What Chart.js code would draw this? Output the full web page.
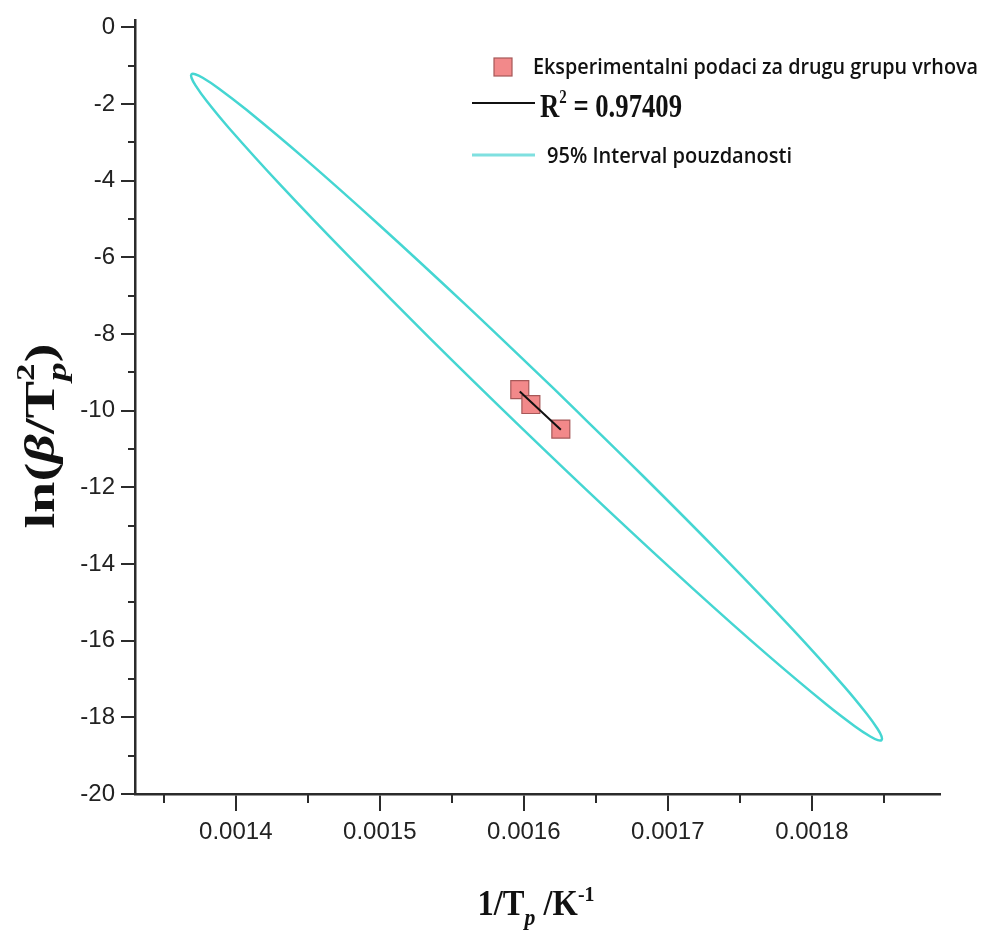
<!DOCTYPE html>
<html lang="sr">
<head>
<meta charset="UTF-8">
<title>ln(beta/Tp2) vs 1/Tp</title>
<script src="https://cdn.jsdelivr.net/npm/chart.js"></script>
<style>
  html, body { margin: 0; padding: 0; background: #fff; }
  #wrap { position: relative; width: 987px; height: 931px; }
</style>
</head>
<body>
<div id="wrap"><canvas id="chart"></canvas></div>
<script>
// experimental points (1/Tp, ln(beta/Tp^2))
const expX = [0.0015972, 0.0016049, 0.0016257];
const expY = [-9.45, -9.84, -10.48];

// fitted line, read at both ends
const fitX = [0.0015972, 0.0016257];
const fitY = [-9.50, -10.50];

// 95% confidence ellipse, traced round from the upper side
const ellX = [0.0016210, 0.0015586, 0.0014996, 0.0014480, 0.0014074, 0.0013879, 0.0013770, 0.0013718,
              0.0013692, 0.0013693, 0.0013720, 0.0013795, 0.0013952, 0.0014308, 0.0014785, 0.0015350,
              0.0015966, 0.0016590, 0.0017180, 0.0017696, 0.0018102, 0.0018298, 0.0018406, 0.0018458,
              0.0018484, 0.0018484, 0.0018457, 0.0018381, 0.0018224, 0.0017869, 0.0017392, 0.0016826,
              0.0016210];
const ellY = [-9.434, -7.203, -5.156, -3.433, -2.152, -1.587, -1.317, -1.224,
              -1.226, -1.323, -1.514, -1.911, -2.626, -4.105, -5.978, -8.120,
              -10.383, -12.614, -14.661, -16.384, -17.666, -18.231, -18.500, -18.594,
              -18.592, -18.495, -18.303, -17.906, -17.191, -15.713, -13.839, -11.698,
              -9.434];

// minor tick positions
const xMinor = [0.00135, 0.00145, 0.00155, 0.00165, 0.00175, 0.00185];
const yMinor = [-1, -3, -5, -7, -9, -11, -13, -15, -17, -19];

const legendLabels = ['Eksperimentalni podaci za drugu grupu vrhova', ' = 0.97409', '95% Interval pouzdanosti'];

const pointFill = '#f2898a';
const pointEdge = '#a65858';
const cyan = '#45d6d2';
const axisColor = '#2b2b2b';

function toPts(xs, ys) {
  return xs.map((x, i) => ({ x: x, y: ys[i] }));
}

// draws a row of text pieces (sub/superscripts), squeezed to a given width
function drawRich(ctx, parts, ox, oy, opts) {
  let x = 0, hold = 0;
  for (const p of parts) {
    ctx.font = p.font;
    p.w = ctx.measureText(p.t).width;
    p.x = x;
    if (p.stack) hold = Math.max(hold, p.w);
    else { x += Math.max(hold, p.w); hold = 0; }
  }
  const total = x;
  const sx = opts.width ? opts.width / total : 1;
  ctx.save();
  ctx.translate(ox, oy);
  if (opts.rotate) ctx.rotate(-Math.PI / 2);
  ctx.scale(sx, 1);
  ctx.fillStyle = opts.color || '#111';
  ctx.textBaseline = 'alphabetic';
  ctx.textAlign = 'left';
  const start = opts.center ? -total / 2 : 0;
  for (const p of parts) {
    ctx.font = p.font;
    ctx.fillText(p.t, start + p.x, p.dy || 0);
  }
  ctx.restore();
}

const serif = '"Liberation Serif", "Times New Roman", serif';
const sans = '"Open Sans", "Noto Sans", sans-serif';

const decorPlugin = {
  id: 'decor',
  afterDraw(chart) {
    const ctx = chart.ctx;
    const xs = chart.scales.x, ys = chart.scales.y;
    const area = chart.chartArea;

    // minor ticks
    ctx.save();
    ctx.strokeStyle = axisColor;
    ctx.lineWidth = 2;
    ctx.beginPath();
    xMinor.forEach(v => {
      const px = Math.round(xs.getPixelForValue(v));
      ctx.moveTo(px, area.bottom);
      ctx.lineTo(px, area.bottom + 9);
    });
    yMinor.forEach(v => {
      const py = Math.round(ys.getPixelForValue(v));
      ctx.moveTo(area.left, py);
      ctx.lineTo(area.left - 7, py);
    });
    ctx.stroke();
    ctx.restore();

    // legend
    ctx.save();
    ctx.fillStyle = pointFill;
    ctx.strokeStyle = pointEdge;
    ctx.lineWidth = 1.2;
    ctx.fillRect(494, 58, 18, 18);
    ctx.strokeRect(494, 58, 18, 18);
    ctx.strokeStyle = '#111';
    ctx.lineWidth = 2;
    ctx.beginPath(); ctx.moveTo(472, 103); ctx.lineTo(535, 103); ctx.stroke();
    ctx.strokeStyle = '#7fe0e0';
    ctx.lineWidth = 3;
    ctx.beginPath(); ctx.moveTo(472, 155); ctx.lineTo(535, 155); ctx.stroke();
    ctx.restore();

    drawRich(ctx, [{ t: legendLabels[0], font: '600 22px ' + sans }], 533, 74, { width: 445 });
    drawRich(ctx, [
      { t: 'R', font: 'bold 34px ' + serif },
      { t: '2', font: 'bold 19px ' + serif, dy: -14 },
      { t: legendLabels[1], font: 'bold 34px ' + serif }
    ], 540, 117, { width: 142 });
    drawRich(ctx, [{ t: legendLabels[2], font: '600 22px ' + sans }], 547, 163, { width: 245 });

    // axis titles
    drawRich(ctx, [
      { t: '1/T', font: 'bold 36px ' + serif },
      { t: 'p', font: 'italic bold 24px ' + serif, dy: 10 },
      { t: ' /K', font: 'bold 36px ' + serif },
      { t: '-1', font: 'bold 22px ' + serif, dy: -14 }
    ], 536, 915, { width: 117, center: true });

    drawRich(ctx, [
      { t: 'ln(', font: 'bold 42px ' + serif },
      { t: '\u03B2', font: 'italic bold 42px ' + serif },
      { t: '/T', font: 'bold 42px ' + serif },
      { t: 'p', font: 'italic bold 28px ' + serif, dy: 12, stack: true },
      { t: '2', font: 'bold 26px ' + serif, dy: -20 },
      { t: ')', font: 'bold 42px ' + serif }
    ], 54, 436, { rotate: true, center: true, width: 185 });
  }
};

new Chart(document.getElementById('chart'), {
  type: 'scatter',
  data: {
    datasets: [
      {
        label: 'R2 = 0.97409',
        type: 'line',
        data: toPts(fitX, fitY),
        borderColor: '#111',
        borderWidth: 2,
        pointRadius: 0,
        fill: false
      },
      {
        label: legendLabels[0],
        data: toPts(expX, expY),
        pointStyle: 'rect',
        pointRadius: 12.7,
        backgroundColor: pointFill,
        borderColor: pointEdge,
        borderWidth: 1.2
      },
      {
        label: legendLabels[2],
        data: toPts(ellX, ellY),
        showLine: true,
        tension: 0.4,
        borderColor: cyan,
        borderWidth: 2.5,
        pointRadius: 0,
        fill: false
      }
    ]
  },
  options: {
    responsive: true,
    maintainAspectRatio: false,
    animation: false,
    layout: { padding: { top: 20, right: 47, left: 0, bottom: 0 } },
    plugins: { legend: { display: false }, tooltip: { enabled: false } },
    scales: {
      x: {
        type: 'linear',
        min: 0.00133,
        max: 0.001889,
        afterFit(scale) { scale.height = 137; },
        border: { display: true, color: axisColor, width: 2.5 },
        grid: { drawOnChartArea: false, drawTicks: true, tickLength: 17, color: axisColor, lineWidth: 2 },
        ticks: {
          stepSize: 0.0001,
          includeBounds: false,
          autoSkip: false,
          maxRotation: 0,
          padding: 7,
          color: '#222',
          font: { family: '"Liberation Sans", Arial, sans-serif', size: 24 },
          callback: v => v.toFixed(4)
        }
      },
      y: {
        type: 'linear',
        min: -20,
        max: 0.18,
        afterFit(scale) { scale.width = 135; },
        border: { display: true, color: axisColor, width: 2.5 },
        grid: { drawOnChartArea: false, drawTicks: true, tickLength: 14, color: axisColor, lineWidth: 2 },
        ticks: {
          stepSize: 2,
          includeBounds: false,
          autoSkip: false,
          padding: 6,
          color: '#222',
          font: { family: '"Liberation Sans", Arial, sans-serif', size: 24 },
          callback: v => String(Math.round(v))
        }
      }
    }
  },
  plugins: [decorPlugin]
});
</script>
</body>
</html>
